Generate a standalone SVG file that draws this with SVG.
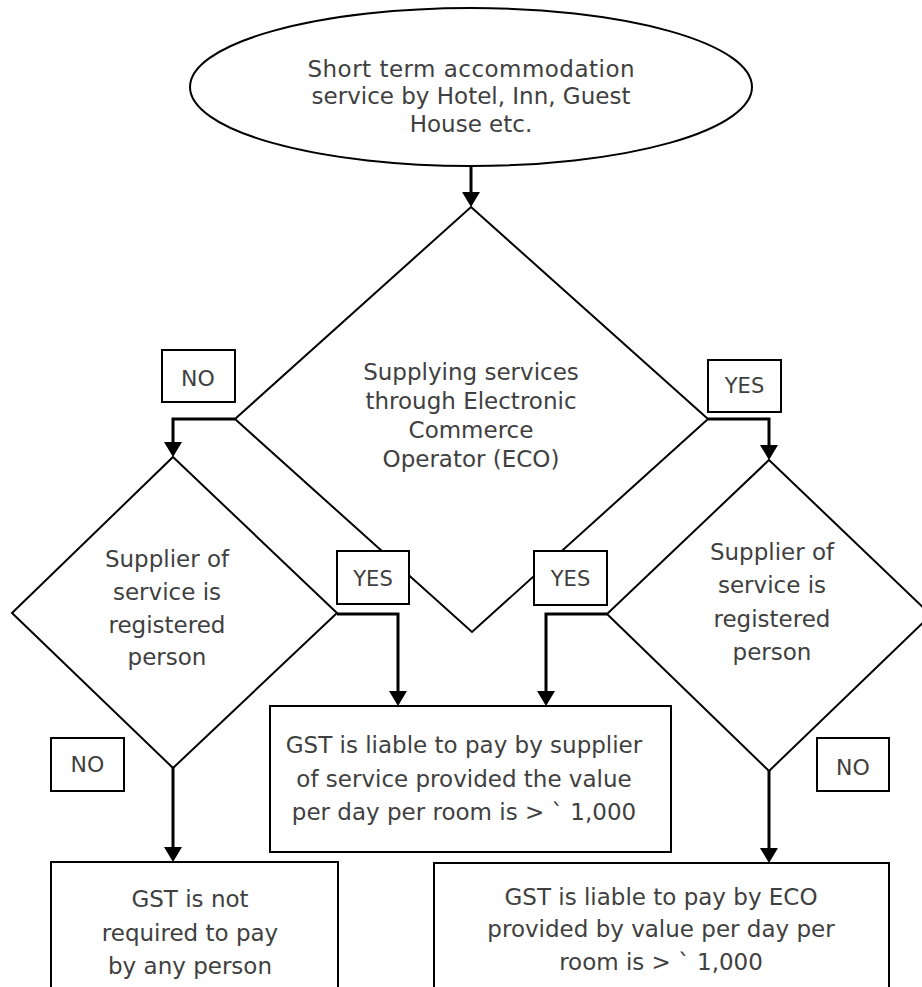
<svg xmlns="http://www.w3.org/2000/svg" width="922" height="987" viewBox="0 0 922 987">
<style>
.shape{fill:#fff;stroke:#000;stroke-width:2}
.conn{fill:none;stroke:#000;stroke-width:3}
.lbl{fill:#fff;stroke:#000;stroke-width:2}
text{font-family:"DejaVu Sans","Liberation Sans",sans-serif;font-size:23px;fill:#404040;text-anchor:middle}
.lt{font-size:21px}
.ln{font-size:22px}
</style>
<defs>
<marker id="arr" viewBox="0 0 15 18" refX="2" refY="9" markerWidth="15" markerHeight="18" markerUnits="userSpaceOnUse" orient="auto">
<path d="M0,0 L15,9 L0,18 z" fill="#000"/>
</marker>
</defs>
<rect width="922" height="987" fill="#fff"/>

<g id="start">
<ellipse class="shape" cx="471" cy="87" rx="281" ry="79"/>
<text x="471" y="77" textLength="327">Short term accommodation</text>
<text x="471" y="104">service by Hotel, Inn, Guest</text>
<text x="471" y="132">House etc.</text>
</g>

<g id="decision-eco">
<polygon class="shape" points="471,207 708,419 472,632 235,419"/>
<text x="471" y="380">Supplying services</text>
<text x="471" y="409">through Electronic</text>
<text x="471" y="438">Commerce</text>
<text x="471" y="467">Operator (ECO)</text>
</g>

<g id="decision-left">
<polygon class="shape" points="173,457 337,613 173,768 12,613"/>
<text x="167" y="567">Supplier of</text>
<text x="167" y="600">service is</text>
<text x="167" y="633">registered</text>
<text x="167" y="665">person</text>
</g>

<g id="decision-right">
<polygon class="shape" points="769,460 931,615 769,771 607,614"/>
<text x="772" y="560">Supplier of</text>
<text x="772" y="593">service is</text>
<text x="772" y="627">registered</text>
<text x="772" y="660">person</text>
</g>

<g id="box-supplier">
<rect class="shape" x="270" y="706" width="401" height="146"/>
<text x="464" y="753">GST is liable to pay by supplier</text>
<text x="464" y="787">of service provided the value</text>
<text x="464" y="820">per day per room is &gt; ` 1,000</text>
</g>

<g id="box-none">
<rect class="shape" x="51" y="862" width="287" height="140"/>
<text x="190" y="907">GST is not</text>
<text x="190" y="941">required to pay</text>
<text x="190" y="974">by any person</text>
</g>

<g id="box-eco">
<rect class="shape" x="434" y="863" width="455" height="140"/>
<text x="661" y="905">GST is liable to pay by ECO</text>
<text x="661" y="937">provided by value per day per</text>
<text x="661" y="970">room is &gt; ` 1,000</text>
</g>

<g id="connectors">
<path class="conn" d="M471,166 V194" marker-end="url(#arr)"/>
<path class="conn" d="M235,419 H173 V444" marker-end="url(#arr)"/>
<path class="conn" d="M708,419 H769 V447" marker-end="url(#arr)"/>
<path class="conn" d="M337,614 H398 V693" marker-end="url(#arr)"/>
<path class="conn" d="M607,614 H546 V693" marker-end="url(#arr)"/>
<path class="conn" d="M173,768 V849" marker-end="url(#arr)"/>
<path class="conn" d="M769,771 V850" marker-end="url(#arr)"/>
</g>

<g id="labels">
<g id="label-no-eco">
<rect class="lbl" x="162" y="350" width="73" height="52"/>
<text class="ln" x="198" y="386">NO</text>
</g>
<g id="label-yes-eco">
<rect class="lbl" x="708" y="360" width="73" height="52"/>
<text class="lt" x="744.5" y="393">YES</text>
</g>
<g id="label-yes-left">
<rect class="lbl" x="337" y="551" width="72" height="53"/>
<text class="lt" x="373" y="586">YES</text>
</g>
<g id="label-yes-mid">
<rect class="lbl" x="534" y="551" width="73" height="54"/>
<text class="lt" x="570.5" y="586">YES</text>
</g>
<g id="label-no-left">
<rect class="lbl" x="51" y="738" width="73" height="53"/>
<text class="ln" x="87.5" y="772">NO</text>
</g>
<g id="label-no-right">
<rect class="lbl" x="817" y="738" width="72" height="53"/>
<text class="ln" x="853" y="775">NO</text>
</g>
</g>
</svg>
